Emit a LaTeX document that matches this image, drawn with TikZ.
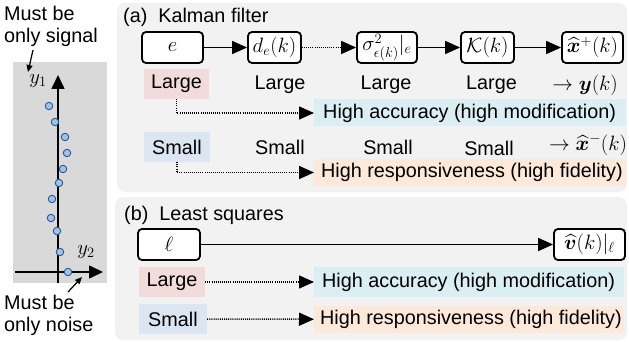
\documentclass[tikz,border=0pt]{standalone}
\usepackage{amsmath,bm}
\usepackage[no-math]{fontspec}
\setmainfont{Liberation Sans}
\usetikzlibrary{arrows.meta}
\definecolor{panelgray}{HTML}{F2F2F2}
\definecolor{axisgray}{HTML}{D9D9D9}
\definecolor{pinkbg}{HTML}{F2DCDB}
\definecolor{bluebg}{HTML}{DCE6F2}
\definecolor{cyanbg}{HTML}{DAEEF3}
\definecolor{orangebg}{HTML}{FDE9D9}
\definecolor{dotfill}{HTML}{9DC3E6}
\definecolor{dotline}{HTML}{2F5597}
\begin{document}
\begin{tikzpicture}[x=1pt,y=-1pt,
  font=\fontsize{19.8}{22}\selectfont,
  box/.style={draw, line width=1.8pt, rounded corners=4pt, fill=white, minimum height=31pt, inner sep=0pt, font=\fontsize{21.5}{24}\selectfont},
  tag/.style={inner sep=0pt, minimum height=30pt},
  word/.style={inner sep=0pt},
  mword/.style={inner sep=0pt, font=\fontsize{21.5}{24}\selectfont},
  bar/.style={anchor=west, minimum height=27pt, minimum width=312pt, inner sep=0pt},
  bartext/.style={anchor=west, inner sep=0pt},
  conn/.style={line width=1.6pt, -{Triangle[length=15pt,width=13pt]}},
  dconn/.style={line width=1.5pt, dash pattern=on 1pt off 1.1pt, -{Triangle[length=15pt,width=13pt]}},
  note/.style={line width=1.2pt, -{Triangle[length=7pt,width=6pt]}},
  axis/.style={line width=1.6pt, -{Triangle[length=14pt,width=13pt]}},
  dot/.style={circle, fill=dotfill, draw=dotline, line width=0.9pt, minimum size=7.5pt, inner sep=0pt},
  notetext/.style={anchor=west, align=left, inner sep=0pt}
]
\useasboundingbox (0,0) rectangle (629,342);

% ---------- left scatter panel ----------
\fill[axisgray] (13,62) rectangle (107,283);
\draw[axis] (58,283) -- (58,75);
\draw[axis] (15,272) -- (103,272);
\node[mword] (y1) at (38,81) {$y_1$};
\node[mword] (y2) at (86,252) {$y_2$};
\foreach \px/\py [count=\i] in {49/106,55/122,65/137,67/153,63/169,59/183,52/199,51/218,57/231,60/252,68/272}
  \node[dot] (d\i) at (\px,\py) {};
\node[notetext] (sig) at (4,26) {Must be\\only signal};
\coordinate (sigtip) at (28,72);
\draw[note] (33,50) -- (sigtip);
\node[notetext] (noi) at (4,315) {Must be\\only noise};
\coordinate (noitip) at (82,277);
\draw[note] (68,292) -- (noitip);

% ---------- panel (a) ----------
\fill[panelgray, rounded corners=8pt] (117,3) rectangle (627,192);
\node[word, anchor=west] (ta) at (123,17) {(a)\hspace{11pt}Kalman filter};
\node[box, minimum width=61pt] (e)   at (172.5,47.5) {$e$};
\node[box, minimum width=53pt] (de)  at (274.5,47.5) {$d_e(k)$};
\node[box, minimum width=60pt] (sg)  at (387,47.5) {$\sigma^2_{\epsilon(k)}|_e$};
\node[box, minimum width=53pt] (kk)  at (487.5,47.5) {$\mathcal{K}(k)$};
\node[box, minimum width=61pt] (xp)  at (592.5,47.5) {$\widehat{\bm{x}}^{+}(k)$};
\draw[conn] (e) -- (de);
\draw[dconn] (de) -- (sg);
\draw[conn] (sg) -- (kk);
\draw[conn] (kk) -- (xp);

\node[tag, fill=pinkbg, minimum width=65pt] (aL) at (176.5,84) {Large};
\node[word] (aL2) at (280,85) {Large};
\node[word] (aL3) at (386,85) {Large};
\node[word] (aL4) at (491.5,85) {Large};
\node[mword] (ay)  at (585,85) {$\to\bm{y}(k)$};
\node[bar, fill=cyanbg] (aAcc) at (314,113) {};
\node[bartext] (aAccT) at (323,113) {High accuracy (high modification)};
\draw[dconn] (aL.south) |- (aAcc.west);

\node[tag, fill=bluebg, minimum width=66pt] (aS) at (177,147) {Small};
\node[word] (aS2) at (280,147) {Small};
\node[word] (aS3) at (388,147) {Small};
\node[word] (aS4) at (489,148) {Small};
\node[mword] (ax)  at (588,145) {$\to\widehat{\bm{x}}^{-}(k)$};
\node[bar, fill=orangebg] (aResp) at (314,172.5) {};
\node[bartext] (aRespT) at (321,172.5) {High responsiveness (high fidelity)};
\draw[dconn] (aS.south) |- (aResp.west);

% ---------- panel (b) ----------
\fill[panelgray, rounded corners=8pt] (115,197) rectangle (627,340);
\node[word, anchor=west] (tb) at (124,215) {(b)\hspace{11pt}Least squares};
\node[box, minimum width=62pt] (l) at (169,244.5) {$\ell$};
\node[box, minimum width=71pt] (v) at (589.5,244.5) {$\widehat{\bm{v}}(k)|_{\ell}$};
\draw[conn] (l) -- (v);

\node[tag, fill=pinkbg, minimum width=66pt] (bL) at (172,282) {Large};
\node[bar, fill=cyanbg, minimum height=30pt, minimum width=310pt] (bAcc) at (314,282) {};
\node[bartext] (bAccT) at (322,282) {High accuracy (high modification)};
\draw[dconn] (bL) -- (bAcc);
\node[tag, fill=bluebg, minimum width=68pt] (bS) at (173,319) {Small};
\node[bar, fill=orangebg, minimum width=310pt] (bResp) at (314,319.5) {};
\node[bartext] (bRespT) at (320,319.5) {High responsiveness (high fidelity)};
\draw[dconn] (bS) -- (bResp);
\end{tikzpicture}
\end{document}
